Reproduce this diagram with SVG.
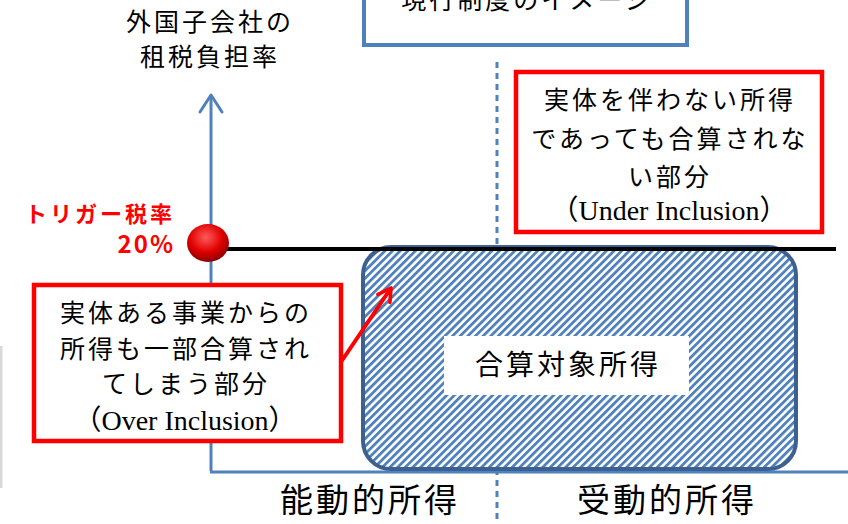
<svg xmlns="http://www.w3.org/2000/svg" width="848" height="524" viewBox="0 0 848 524">
<style>
.jp{font-family:"Noto Sans CJK JP","Liberation Sans",sans-serif;fill:#000;text-anchor:middle;font-size:25px;letter-spacing:3px}
.en{font-family:"Liberation Serif","Noto Sans CJK JP",serif;fill:#000;text-anchor:middle;font-size:28px}
.red{font-family:"Noto Sans CJK JP","Liberation Sans",sans-serif;fill:#ff0000;font-weight:bold;text-anchor:end;font-size:22px;letter-spacing:3px}
.rbox{fill:#fff;stroke:#ff0000;stroke-width:4.5}
.axis{stroke:#4f81bd;stroke-width:3;fill:none}
</style>
<defs>
<pattern id="hatch" patternUnits="userSpaceOnUse" width="5.4" height="5.4" patternTransform="rotate(45)">
<rect width="5.4" height="5.4" fill="#fff"/>
<rect width="2.8" height="5.4" fill="#4f81bd"/>
</pattern>
<radialGradient id="ball" cx="0.45" cy="0.35" r="0.65">
<stop offset="0" stop-color="#ff5a5a"/>
<stop offset="0.6" stop-color="#e00000"/>
<stop offset="1" stop-color="#8a0000"/>
</radialGradient>
<marker id="ah" viewBox="0 0 10 10" refX="8" refY="5" markerWidth="4.5" markerHeight="4.5" orient="auto" markerUnits="strokeWidth">
<path d="M1,1 L8,5 L1,9" fill="none" stroke="#ff0000" stroke-width="2" stroke-linecap="round" stroke-linejoin="round"/>
</marker>
</defs>
<rect width="848" height="524" fill="#fff"/>
<rect x="0" y="346" width="2.5" height="142" fill="#d9d9d9"/>

<g id="title">
<rect x="364" y="-20" width="323" height="65" fill="#fff" stroke="#4f81bd" stroke-width="4"/>
<text class="jp" x="527" y="9">現行制度のイメージ</text>
</g>

<g id="ylabel">
<text class="jp" x="210" y="31">外国子会社の</text>
<text class="jp" x="210" y="66">租税負担率</text>
</g>

<g id="axes">
<line class="axis" x1="497" y1="62" x2="497" y2="524" stroke-width="1.5" stroke-dasharray="6,5"/>
<polyline class="axis" points="211,471 211,96"/>
<polyline class="axis" points="200,112 211,95 222,112" stroke-linecap="round" stroke-linejoin="round"/>
<line class="axis" x1="210" y1="472" x2="848" y2="472"/>
</g>

<g id="hatched">
<rect x="363" y="247" width="433" height="222" rx="28" fill="url(#hatch)" stroke="#3c6190" stroke-width="4"/>
<rect x="444" y="336" width="245" height="59" fill="#fff"/>
<text class="jp" x="568" y="375" style="font-size:28px">合算対象所得</text>
</g>

<g id="trigger">
<line x1="226" y1="249" x2="836" y2="249" stroke="#000" stroke-width="4"/>
<ellipse cx="208" cy="243" rx="21" ry="19" fill="url(#ball)"/>
<text class="red" x="175" y="222">トリガー税率</text>
<text class="red" x="175" y="253" style="font-size:24px;letter-spacing:2px">20%</text>
</g>

<g id="under">
<rect class="rbox" x="516" y="72" width="306" height="160"/>
<text class="jp" x="670" y="109">実体を伴わない所得</text>
<text class="jp" x="670" y="148">であっても合算されな</text>
<text class="jp" x="670" y="186">い部分</text>
<text class="en" x="669" y="220">（Under Inclusion）</text>
</g>

<g id="over">
<rect class="rbox" x="34" y="285" width="307" height="156"/>
<text class="jp" x="186" y="322">実体ある事業からの</text>
<text class="jp" x="186" y="358">所得も一部合算され</text>
<text class="jp" x="186" y="393">てしまう部分</text>
<text class="en" x="185" y="430">（Over Inclusion）</text>
</g>

<g id="connectors">
<line x1="341" y1="362" x2="391" y2="288" stroke="#ff0000" stroke-width="4" marker-end="url(#ah)"/>
</g>

<g id="xlabels">
<text class="jp" x="370" y="512" style="font-size:33px;letter-spacing:3px">能動的所得</text>
<text class="jp" x="667" y="512" style="font-size:33px;letter-spacing:3px">受動的所得</text>
</g>
</svg>
